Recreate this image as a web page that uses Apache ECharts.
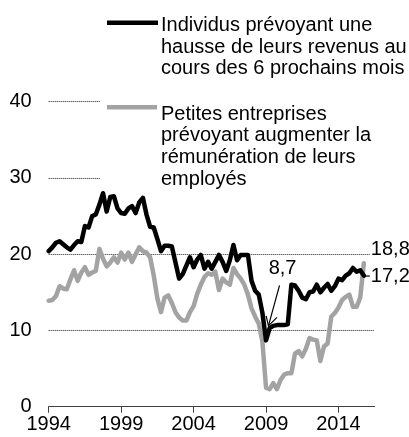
<!DOCTYPE html>
<html>
<head>
<meta charset="utf-8">
<script src="https://cdn.jsdelivr.net/npm/echarts@6/dist/echarts.min.js"></script>
<style>
  html, body { margin: 0; padding: 0; background: #fff; }
  #chart { width: 409px; height: 437px; }
</style>
</head>
<body>
<div id="chart"></div>
<script>
// Quarterly categories 1994 T1 .. 2016 T3 (axis runs a little past the last observation)
const quarters = [];
for (let y = 1994; y <= 2016; y++) {
  for (let q = 1; q <= 4; q++) quarters.push(y + ' T' + q);
}
quarters.length = 91;

const tickYears = ['1994', '1999', '2004', '2009', '2014'];

// % of individuals expecting their income to rise over the next 6 months (1994 T1 - 2015 T4)
const individus = [
  20.4, 20.9, 21.5, 21.7, 21.3, 20.9, 20.6, 21.2, 21.7, 21.6,
  23.7, 23.5, 25.0, 25.2, 26.5, 28.0, 25.6, 27.5, 27.6, 26.0,
  25.4, 25.3, 26.0, 26.3, 25.4, 26.8, 27.4, 25.2, 23.6, 23.5,
  22.0, 20.4, 21.1, 21.1, 21.0, 18.9, 16.8, 17.4, 18.5, 19.6,
  18.3, 19.3, 19.9, 18.1, 19.0, 18.1, 19.0, 19.9, 19.0, 17.8,
  19.2, 21.2, 19.2, 19.9, 19.9, 19.9, 16.5, 15.2, 14.7, 12.3,
  8.7, 10.3, 10.6, 10.7, 10.7, 10.7, 10.8, 16.0, 15.9, 15.2,
  14.3, 14.1, 15.0, 15.1, 16.0, 15.0, 15.6, 16.1, 15.2, 15.8,
  16.8, 16.6, 17.2, 17.5, 18.2, 17.7, 17.9, 17.2
];

// % of small businesses planning to raise their employees' pay (1994 T1 - 2015 T4)
const entreprises = [
  13.9, 14.0, 14.5, 15.8, 15.5, 15.4, 16.7, 17.9, 16.5, 17.6,
  18.3, 17.3, 17.6, 17.8, 20.7, 19.4, 18.4, 18.9, 19.6, 18.9,
  20.2, 19.3, 20.2, 19.0, 20.0, 20.9, 20.4, 20.2, 19.6, 17.2,
  14.2, 12.4, 14.3, 14.6, 13.6, 12.4, 11.7, 11.3, 11.3, 12.4,
  13.2, 14.8, 16.0, 17.0, 17.5, 17.3, 17.7, 15.3, 16.8, 16.3,
  16.0, 18.2, 17.4, 16.8, 16.0, 14.7, 12.9, 11.8, 10.9, 8.5,
  2.5, 2.3, 3.1, 2.3, 3.5, 4.2, 4.4, 4.4, 7.0, 7.3,
  6.6, 7.6, 9.0, 8.8, 8.7, 6.0, 7.9, 8.3, 11.8, 12.3,
  13.0, 14.0, 14.4, 14.7, 13.1, 13.1, 14.3, 18.8
];

const legendIndividus = 'Individus prévoyant une\nhausse de leurs revenus au\ncours des 6 prochains mois';
const legendEntreprises = 'Petites entreprises\nprévoyant augmenter la\nrémunération de leurs\nemployés';

const FONT = 'Liberation Sans, Arial, Helvetica, sans-serif';
const GREY = '#a3a3a3';
const fmt = v => v.toFixed(1).replace('.', ',');
const isTick = i => quarters[i] && tickYears.includes(quarters[i].slice(0, 4)) && quarters[i].endsWith('T1');

const chart = echarts.init(document.getElementById('chart'), null, { renderer: 'canvas' });

chart.setOption({
  animation: false,
  backgroundColor: '#fff',
  grid: { left: 48.7, right: 34.3, top: 101.7, bottom: 30.3, containLabel: false },
  xAxis: {
    type: 'category',
    data: quarters,
    boundaryGap: false,
    axisLine: { show: true, lineStyle: { color: '#404040', width: 1 } },
    axisTick: { show: true, length: 6, interval: i => isTick(i), lineStyle: { color: '#404040', width: 1 } },
    axisLabel: {
      interval: i => isTick(i),
      formatter: v => v.slice(0, 4),
      color: '#000', fontFamily: FONT, fontSize: 20, margin: 8
    },
    splitLine: { show: false }
  },
  yAxis: {
    type: 'value',
    min: 0, max: 40, interval: 10,
    axisLine: { show: false },
    axisTick: { show: false },
    axisLabel: { color: '#000', fontFamily: FONT, fontSize: 20, margin: 17 },
    splitLine: { show: true, lineStyle: { color: '#222', width: 1, type: [1, 1] } }
  },
  series: [
    {
      name: 'Petites entreprises',
      type: 'line',
      data: entreprises,
      showSymbol: false,
      symbol: 'none',
      z: 3,
      lineStyle: { color: GREY, width: 4.5, join: 'round', cap: 'round' }
    },
    {
      name: 'Individus',
      type: 'line',
      data: individus,
      showSymbol: false,
      symbol: 'none',
      z: 4,
      lineStyle: { color: '#000', width: 4.5, join: 'round', cap: 'round' }
    }
  ]
});

// Annotations placed from the data through the chart's own coordinate system
function px(i, v) { return chart.convertToPixel({ xAxisIndex: 0, yAxisIndex: 0 }, [i, v]); }

const last = individus.length - 1;
let minIdx = 0;
individus.forEach((v, i) => { if (v < individus[minIdx]) minIdx = i; });
const pMin = px(minIdx, individus[minIdx]);
const pEndB = px(last, individus[last]);
const pEndG = px(last, entreprises[last]);

const tip = [pMin[0] + 2.4, pMin[1] - 14.5];
const tail = [pMin[0] + 13.5, pMin[1] - 55];

chart.setOption({
  graphic: [
    // white panel behind the legend, hiding the upper grid lines
    { type: 'rect', z: 1, silent: true, shape: { x: 100, y: 0, width: 309, height: 188 }, style: { fill: '#fff' } },
    { type: 'line', z: 10, shape: { x1: 107, y1: 22.7, x2: 158, y2: 22.7 }, style: { stroke: '#000', lineWidth: 4.5 } },
    { type: 'text', z: 10, x: 161, y: 14.5, style: { text: legendIndividus, font: '20px ' + FONT, lineHeight: 21.7, fill: '#000', textVerticalAlign: 'top' } },
    { type: 'line', z: 10, shape: { x1: 107, y1: 107.3, x2: 157, y2: 107.3 }, style: { stroke: GREY, lineWidth: 4.5 } },
    { type: 'text', z: 10, x: 161, y: 103.2, style: { text: legendEntreprises, font: '20px ' + FONT, lineHeight: 21.7, fill: '#000', textVerticalAlign: 'top' } },
    // minimum of the individuals series
    { type: 'text', z: 10, x: pMin[0] + 16.5, y: pMin[1] - 71.5, style: { text: fmt(individus[minIdx]), font: '20px ' + FONT, fill: '#000', textAlign: 'center', textVerticalAlign: 'middle' } },
    { type: 'line', z: 10, shape: { x1: tail[0], y1: tail[1], x2: tip[0], y2: tip[1] }, style: { stroke: '#000', lineWidth: 1.2 } },
    { type: 'polyline', z: 10, shape: { points: [[tip[0] - 2.3, tip[1] - 10], tip, [tip[0] + 8.5, tip[1] - 8.5]] }, style: { stroke: '#000', lineWidth: 1.2, fill: null } },
    // end values
    { type: 'text', z: 10, x: pEndG[0] + 6, y: 249, style: { text: fmt(entreprises[last]), font: '20px ' + FONT, fill: '#000', backgroundColor: '#fff', padding: [0, 0, 0, 1], textVerticalAlign: 'middle' } },
    { type: 'line', z: 10, shape: { x1: pEndB[0] + 1, y1: pEndB[1] + 0.5, x2: pEndB[0] + 6, y2: pEndB[1] + 0.5 }, style: { stroke: '#000', lineWidth: 1.2 } },
    { type: 'text', z: 10, x: pEndB[0] + 7, y: pEndB[1] + 1, style: { text: fmt(individus[last]), font: '20px ' + FONT, fill: '#000', textVerticalAlign: 'middle' } }
  ]
});
</script>
</body>
</html>
